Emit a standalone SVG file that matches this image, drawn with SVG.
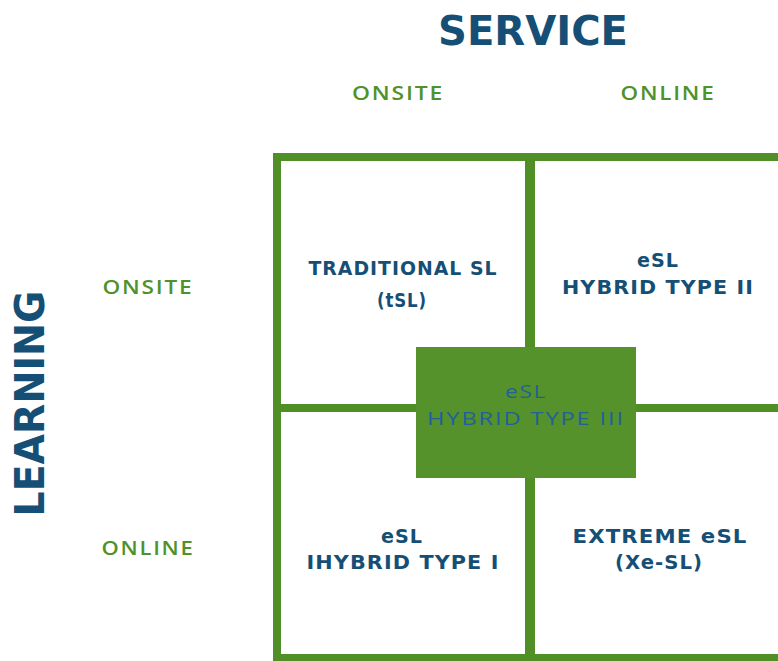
<svg xmlns="http://www.w3.org/2000/svg" width="778" height="661" viewBox="0 0 778 661">
<style>
.title{font-family:"DejaVu Sans","Liberation Sans",sans-serif;font-weight:700;fill:#164f75;text-anchor:middle}
.axis{font-family:"Open Sans","Liberation Sans",sans-serif;font-weight:600;font-size:19px;fill:#4f922a;text-anchor:middle;letter-spacing:1.5px}
.cell{font-family:"DejaVu Sans","Liberation Sans",sans-serif;font-weight:700;font-size:19px;fill:#164f75;text-anchor:middle;letter-spacing:1px}
.mid{font-family:"Open Sans","Liberation Sans",sans-serif;font-weight:500;font-size:19px;fill:#22609a;text-anchor:middle;letter-spacing:1.5px}
.line{fill:#4f8f25}
</style>
<rect width="778" height="661" fill="#ffffff"/>
<text class="title" x="533" y="45" font-size="40" textLength="190" lengthAdjust="spacingAndGlyphs">SERVICE</text>
<text class="title" font-size="40" transform="translate(44,403.5) rotate(-90)" textLength="226" lengthAdjust="spacingAndGlyphs">LEARNING</text>
<text class="axis" x="398" y="100" textLength="92" lengthAdjust="spacingAndGlyphs">ONSITE</text>
<text class="axis" x="668" y="100" textLength="95" lengthAdjust="spacingAndGlyphs">ONLINE</text>
<text class="axis" x="148" y="294" textLength="91" lengthAdjust="spacingAndGlyphs">ONSITE</text>
<text class="axis" x="148" y="555" textLength="93" lengthAdjust="spacingAndGlyphs">ONLINE</text>
<g id="grid">
<rect class="line" x="273" y="153" width="505" height="8"/>
<rect class="line" x="273" y="153" width="8" height="508"/>
<rect class="line" x="273" y="654" width="505" height="7"/>
<rect class="line" x="525" y="153" width="10" height="508"/>
<rect class="line" x="273" y="404" width="505" height="8"/>
</g>
<g id="tsl">
<text class="cell" x="403" y="275" textLength="189" lengthAdjust="spacingAndGlyphs">TRADITIONAL SL</text>
<text class="cell" x="402" y="307" textLength="50" lengthAdjust="spacingAndGlyphs">(tSL)</text>
</g>
<g id="type2">
<text class="cell" x="658" y="267" textLength="42" lengthAdjust="spacingAndGlyphs">eSL</text>
<text class="cell" x="658" y="294" textLength="192" lengthAdjust="spacingAndGlyphs">HYBRID TYPE II</text>
</g>
<g id="type1">
<text class="cell" x="402" y="543" textLength="42" lengthAdjust="spacingAndGlyphs">eSL</text>
<text class="cell" x="403" y="569" textLength="193" lengthAdjust="spacingAndGlyphs">IHYBRID TYPE I</text>
</g>
<g id="xesl">
<text class="cell" x="660" y="543" textLength="175" lengthAdjust="spacingAndGlyphs">EXTREME eSL</text>
<text class="cell" x="659" y="569" textLength="88" lengthAdjust="spacingAndGlyphs">(Xe-SL)</text>
</g>
<g id="type3">
<rect x="416" y="347" width="220" height="131" fill="#55922b"/>
<text class="mid" x="526" y="398" textLength="42" lengthAdjust="spacingAndGlyphs">eSL</text>
<text class="mid" x="526" y="425" textLength="198" lengthAdjust="spacingAndGlyphs">HYBRID TYPE III</text>
</g>
</svg>
